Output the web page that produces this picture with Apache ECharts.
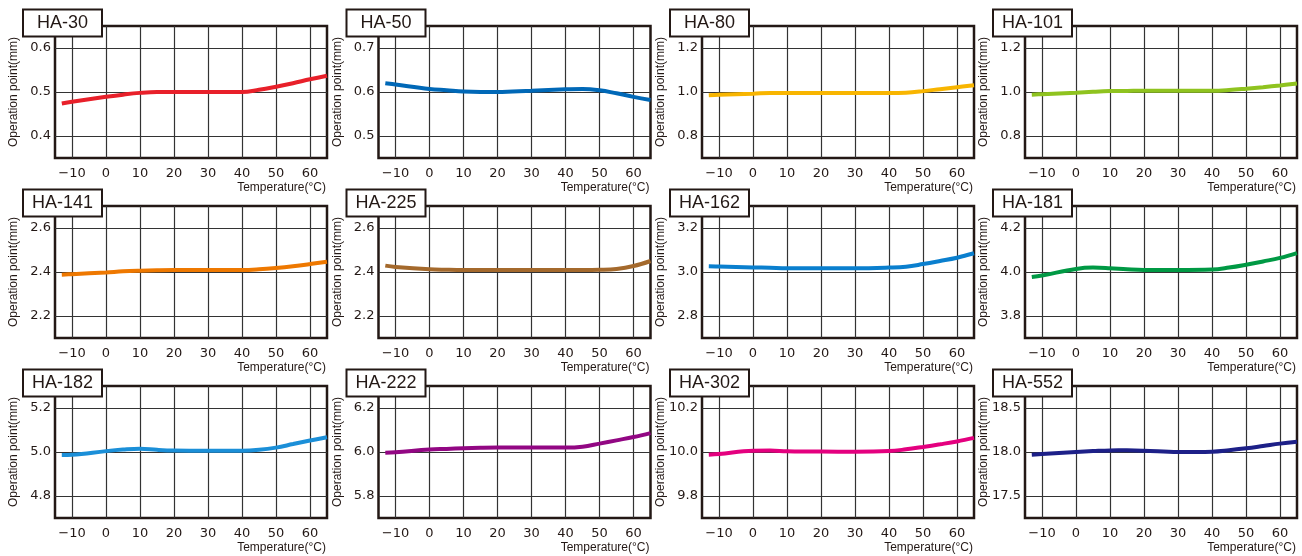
<!DOCTYPE html>
<html>
<head>
<meta charset="utf-8">
<script src="https://cdn.jsdelivr.net/npm/echarts@6/dist/echarts.min.js"></script>
<style>
  html, body { margin: 0; padding: 0; background: #fff; }
  #chart { width: 1302px; height: 556px; }
</style>
</head>
<body>
<div id="chart"></div>
<script>
// temperature points the curves were read at (°C)
const temps = [-13, -10, 0, 5, 10, 15, 20, 30, 40, 45, 50, 55, 60, 65];
const xTicks = [-10, 0, 10, 20, 30, 40, 50, 60];

const models = ['HA-30', 'HA-50', 'HA-80', 'HA-101',
                'HA-141', 'HA-225', 'HA-162', 'HA-181',
                'HA-182', 'HA-222', 'HA-302', 'HA-552'];

// operation point (mm) per model, one value per entry of temps
const ha30  = [0.474, 0.478, 0.489, 0.494, 0.498, 0.500, 0.500, 0.500, 0.500, 0.505, 0.512, 0.520, 0.529, 0.537];
const ha50  = [0.620, 0.617, 0.607, 0.604, 0.601, 0.600, 0.600, 0.603, 0.606, 0.607, 0.604, 0.597, 0.589, 0.582];
const ha80  = [0.985, 0.987, 0.992, 0.996, 0.995, 0.995, 0.995, 0.995, 0.995, 0.997, 1.004, 1.013, 1.022, 1.031];
const ha101 = [0.988, 0.990, 0.997, 1.001, 1.004, 1.005, 1.006, 1.006, 1.006, 1.009, 1.015, 1.022, 1.030, 1.039];
const ha141 = [2.388, 2.390, 2.398, 2.403, 2.406, 2.408, 2.409, 2.409, 2.409, 2.412, 2.418, 2.426, 2.436, 2.447];
const ha225 = [2.429, 2.423, 2.412, 2.410, 2.409, 2.409, 2.409, 2.409, 2.409, 2.409, 2.410, 2.414, 2.427, 2.450];
const ha162 = [3.026, 3.025, 3.021, 3.019, 3.017, 3.017, 3.017, 3.017, 3.020, 3.024, 3.036, 3.050, 3.065, 3.085];
const ha181 = [3.977, 3.984, 4.014, 4.020, 4.017, 4.012, 4.009, 4.009, 4.011, 4.020, 4.033, 4.048, 4.064, 4.086];
const ha182 = [4.986, 4.987, 5.004, 5.011, 5.015, 5.010, 5.007, 5.006, 5.006, 5.010, 5.020, 5.036, 5.052, 5.067];
const ha222 = [5.997, 5.999, 6.011, 6.014, 6.017, 6.019, 6.020, 6.020, 6.020, 6.024, 6.038, 6.053, 6.068, 6.086];
const ha302 = [9.988, 9.991, 10.006, 10.007, 10.003, 10.002, 10.002, 10.001, 10.004, 10.012, 10.023, 10.035, 10.048, 10.064];
const ha552 = [17.970, 17.977, 18.000, 18.010, 18.018, 18.019, 18.015, 18.000, 18.004, 18.020, 18.042, 18.068, 18.095, 18.117];

const values = [ha30, ha50, ha80, ha101, ha141, ha225, ha162, ha181, ha182, ha222, ha302, ha552];

// y tick labels of each panel
const yTicks = [
    [0.4, 0.5, 0.6], [0.5, 0.6, 0.7], [0.8, 1.0, 1.2], [0.8, 1.0, 1.2],
    [2.2, 2.4, 2.6], [2.2, 2.4, 2.6], [2.8, 3.0, 3.2], [3.8, 4.0, 4.2],
    [4.8, 5.0, 5.2], [5.8, 6.0, 6.2], [9.8, 10.0, 10.2], [17.5, 18.0, 18.5]
];

const lineColors = ['#e8202a', '#0068b7', '#f8b500', '#8fc31f',
                    '#ee7800', '#a4692c', '#0a7fce', '#009944',
                    '#1b8fd8', '#920783', '#e4007f', '#1d2088'];

const colLeft = [55, 378.5, 702, 1025];
const rowTop = [26, 206, 386];
const plotW = 272;
const plotH = 132;
const ink = '#231815';
const labelFont = 'DejaVu Sans';
const nameFont = 'Liberation Sans';

const chart = echarts.init(document.getElementById('chart'));

const grids = [], xAxes = [], yAxes = [], series = [], graphics = [];

models.forEach((name, i) => {
    const left = colLeft[i % 4];
    const top = rowTop[Math.floor(i / 4)];
    const ticks = yTicks[i];
    const step = ticks[1] - ticks[0];

    grids.push({
        left: left, top: top, width: plotW, height: plotH,
        show: true, borderColor: ink, borderWidth: 2.5,
        backgroundColor: '#fff', containLabel: false, outerBoundsMode: 'none'
    });

    xAxes.push({
        type: 'value', gridIndex: i, min: -15, max: 65,
        axisLine: { show: false },
        axisTick: { show: false, customValues: xTicks },
        splitLine: { show: true, lineStyle: { color: '#333', width: 1.2 } },
        axisLabel: {
            customValues: xTicks, margin: 9, fontSize: 13, color: ink, fontFamily: labelFont,
            formatter: v => v < 0 ? '\u2212' + Math.abs(v) : String(v)
        },
        name: 'Temperature(\u00b0C)', nameLocation: 'end', nameGap: -1, nameMoveOverlap: false,
        nameTextStyle: {
            fontSize: 12, color: ink, fontFamily: nameFont,
            align: 'right', verticalAlign: 'top', padding: [24, 0, 0, 0]
        }
    });

    yAxes.push({
        type: 'value', gridIndex: i,
        min: ticks[0] - step / 2, max: ticks[2] + step / 2,
        axisLine: { show: false },
        axisTick: { show: false, customValues: ticks },
        splitLine: { show: true, lineStyle: { color: '#333', width: 1.2 } },
        axisLabel: {
            customValues: ticks, margin: 4, fontSize: 13, color: ink, fontFamily: labelFont,
            formatter: v => v.toFixed(1)
        },
        name: 'Operation point(mm)', nameLocation: 'middle', nameGap: 35, nameMoveOverlap: false,
        nameTextStyle: { fontSize: 12, color: ink, fontFamily: nameFont }
    });

    series.push({
        type: 'line', name: name, xAxisIndex: i, yAxisIndex: i,
        data: temps.map((t, j) => [t, values[i][j]]),
        smooth: 0.4, showSymbol: false, clip: true,
        lineStyle: { color: lineColors[i], width: 4 },
        itemStyle: { color: lineColors[i] }
    });

    // model name box over the top-left corner of the plot
    graphics.push({
        type: 'rect', z: 100,
        shape: { x: left - 32, y: top - 16.5, width: 79, height: 27 },
        style: { fill: '#fff', stroke: ink, lineWidth: 2 }
    });
    graphics.push({
        type: 'text', z: 101, x: left - 32 + 39.5, y: top - 16.5 + 14,
        style: {
            text: name, fontSize: 18, fontFamily: nameFont, fill: ink,
            align: 'center', verticalAlign: 'middle'
        }
    });
});

chart.setOption({
    animation: false,
    backgroundColor: '#fff',
    grid: grids,
    xAxis: xAxes,
    yAxis: yAxes,
    series: series,
    graphic: graphics
});
</script>
</body>
</html>
